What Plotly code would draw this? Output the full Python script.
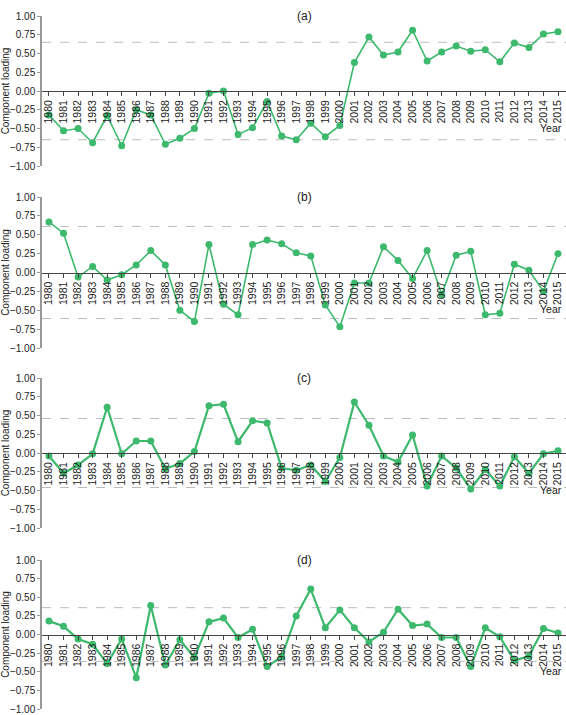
import plotly.graph_objects as go

# Component loadings per year
years = list(range(1980, 2016))

loading_a = [-0.32, -0.53, -0.50, -0.69, -0.33, -0.73, -0.25, -0.32, -0.71, -0.63,
             -0.50, -0.03, 0.00, -0.58, -0.49, -0.14, -0.60, -0.65, -0.43, -0.61,
             -0.46, 0.38, 0.72, 0.48, 0.52, 0.81, 0.40, 0.52, 0.60, 0.53,
             0.55, 0.39, 0.64, 0.58, 0.76, 0.79]
loading_b = [0.67, 0.52, -0.06, 0.08, -0.10, -0.03, 0.10, 0.29, 0.10, -0.50,
             -0.65, 0.37, -0.42, -0.56, 0.37, 0.43, 0.38, 0.26, 0.22, -0.43,
             -0.72, -0.14, -0.14, 0.34, 0.16, -0.08, 0.29, -0.29, 0.23, 0.28,
             -0.56, -0.54, 0.11, 0.03, -0.25, 0.25]
loading_c = [-0.04, -0.27, -0.16, -0.01, 0.61, -0.01, 0.16, 0.16, -0.21, -0.14,
             0.02, 0.63, 0.65, 0.15, 0.43, 0.40, -0.20, -0.23, -0.16, -0.38,
             -0.06, 0.68, 0.37, -0.04, -0.12, 0.24, -0.44, -0.04, -0.20, -0.48,
             -0.22, -0.44, -0.05, -0.27, -0.01, 0.03]
loading_d = [0.18, 0.11, -0.06, -0.13, -0.39, -0.06, -0.58, 0.39, -0.41, -0.07,
             -0.31, 0.17, 0.22, -0.04, 0.07, -0.43, -0.30, 0.25, 0.61, 0.09,
             0.33, 0.09, -0.10, 0.03, 0.34, 0.12, 0.14, -0.04, -0.04, -0.43,
             0.09, -0.03, -0.35, -0.29, 0.08, 0.02]

panel_labels = ["(a)", "(b)", "(c)", "(d)"]
thresholds = [0.65, 0.61, 0.46, 0.36]
series = [loading_a, loading_b, loading_c, loading_d]

W, H = 566, 715
FONT = "Liberation Sans, Arial, sans-serif"
GREEN = "#3cb96c"
line_widths = [1.6, 1.6, 2.2, 2.2]

# panel top/bottom in pixels (plot area for y in [-1, 1])
panel_px = [(16, 166), (197, 348), (378, 528), (560, 709)]

fig = go.Figure()
layout = {}

for i, (vals, lab, thr) in enumerate(zip(series, panel_labels, thresholds)):
    n = "" if i == 0 else str(i + 1)
    top, bot = panel_px[i]
    dom = [1 - bot / H, 1 - top / H]
    mid = (dom[0] + dom[1]) / 2

    fig.add_trace(go.Scatter(
        x=years, y=vals, mode="lines+markers",
        line=dict(color=GREEN, width=line_widths[i]),
        marker=dict(color=GREEN, size=7),
        cliponaxis=False, showlegend=False,
        xaxis="x" + n, yaxis="y" + n,
    ))

    layout["xaxis" + n] = dict(
        range=[1979.52, 2015.55], anchor="free", position=mid,
        tickvals=years, ticktext=[str(y) for y in years], tickangle=-90,
        showline=True, linecolor="#444", linewidth=1,
        ticks="outside", ticklen=4, tickcolor="#444",
        showgrid=False, zeroline=False, automargin=False,
        tickfont=dict(family=FONT, size=10.5, color="#222"),
    )
    layout["yaxis" + n] = dict(
        domain=dom, range=[-1, 1], anchor="x" + n,
        tickvals=[-1, -0.75, -0.5, -0.25, 0, 0.25, 0.5, 0.75, 1],
        tickformat=".2f",
        showline=True, linecolor="#999", linewidth=1.5,
        ticks="outside", ticklen=3, tickcolor="#999",
        showgrid=False, zeroline=False, automargin=False,
        tickfont=dict(family=FONT, size=10, color="#222"),
        title=dict(text="Component loading", standoff=3,
                   font=dict(family=FONT, size=10, color="#222")),
    )

    for t in (thr, -thr):
        fig.add_shape(type="line", xref="x" + n + " domain", yref="y" + n,
                      x0=0, x1=1, y0=t, y1=t,
                      line=dict(color="#bbb", width=1, dash="dash"), layer="below")

    fig.add_annotation(text=lab, xref="x" + n + " domain", yref="y" + n + " domain",
                       x=0.5, y=1, yshift=9, showarrow=False,
                       font=dict(family=FONT, size=12, color="#222"))
    fig.add_annotation(text="Year", xref="x" + n + " domain", yref="y" + n,
                       x=1, y=-0.49, xanchor="right", xshift=-2, showarrow=False,
                       font=dict(family=FONT, size=10.5, color="#222"))

fig.update_layout(
    width=W, height=H,
    margin=dict(l=42, r=0, t=0, b=0, autoexpand=False),
    paper_bgcolor="white", plot_bgcolor="white",
    font=dict(family=FONT, size=10, color="#222"),
    **layout,
)

# page body has a default 8px margin; drop it so the figure fills the window
fig.write_html("out.html", config={"displayModeBar": False},
               post_script="document.body.style.margin='0';")
